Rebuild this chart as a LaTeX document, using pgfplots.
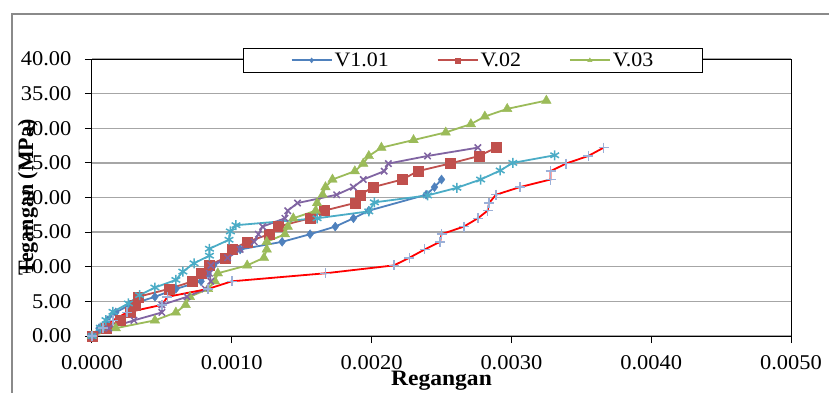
\documentclass[border=0pt]{standalone}
\usepackage{fontspec}
\setmainfont[FakeStretch=1.07]{Liberation Serif}
\newfontfamily\ylabfont{Liberation Serif}
\usepackage{pgfplots}
\pgfplotsset{compat=1.18}
\definecolor{cblue}{HTML}{4F81BD}
\definecolor{cred}{HTML}{C0504D}
\definecolor{cgreen}{HTML}{9BBB59}
\definecolor{cpurple}{HTML}{8064A2}
\definecolor{ccyan}{HTML}{4BACC6}
\definecolor{cplus}{HTML}{9BB0D8}
\definecolor{cframe}{HTML}{8A8A8A}
\definecolor{cgrid}{HTML}{A6A6A6}
\begin{document}
\begin{tikzpicture}[font=\fontsize{21}{24}\selectfont]
\useasboundingbox (-92pt,-56pt) rectangle (737pt,336pt);
\draw[cframe, line width=1.6pt] (-80pt,-70pt) -- (-80pt,322pt) -- (760pt,322pt);
\begin{axis}[
  at={(0,0)}, anchor=south west,
  scale only axis, width=699pt, height=277pt,
  xmin=0, xmax=0.005, ymin=0, ymax=40,
  xtick={0,0.001,0.002,0.003,0.004,0.005},
  ytick={0,5,10,15,20,25,30,35,40},
  scaled x ticks=false,
  xticklabel style={yshift=-9pt, /pgf/number format/.cd, fixed, fixed zerofill, precision=4, assume math mode=true},
  yticklabel style={xshift=-10pt, /pgf/number format/.cd, fixed, fixed zerofill, precision=2, assume math mode=true},
  ymajorgrids, grid style={cgrid, line width=1.3pt},
  axis line style={black, line width=1pt},
  tick style={black, line width=1pt},
  tick align=outside, major tick length=7pt,
  xtick pos=bottom, ytick pos=left,
  clip=false,
  xlabel={Regangan},
  xlabel style={at={(axis description cs:0.5,-0.1769)}, anchor=base, font=\fontsize{22}{24}\selectfont\bfseries},
  ylabel={Tegangan (MPa)},
  ylabel style={at={(axis description cs:-0.0916,0.5)}, anchor=center, font=\ylabfont\fontsize{22}{24}\selectfont\bfseries},
  legend style={at={(0.545,0.995)}, anchor=center, draw=black, fill=white, line width=1pt,
    legend columns=3, inner xsep=47pt, inner ysep=2.5pt, font=\fontsize{20.5}{24}\selectfont,
    /tikz/every even column/.append style={column sep=46pt}},
  legend cell align=left,
  legend image code/.code={\draw[mark repeat=2,mark phase=2,#1, mark size=2.5pt] plot coordinates {(0pt,0pt) (20pt,0pt) (40pt,0pt)};},
]
% V1.01
\addplot[color=cblue, line width=1.8pt, mark=diamond*, mark size=4.5pt, mark options={solid, fill=cblue, line width=0.4pt}] coordinates {
(0,0) (0.00005,1.13) (0.00011,2.26) (0.00017,3.4) (0.00027,4.5) (0.00045,5.66) (0.0006,6.8) (0.00078,7.9) (0.00083,9.06) (0.00087,10.2) (0.00097,11.3) (0.00106,12.5) (0.00136,13.6) (0.00156,14.7) (0.00174,15.8) (0.00187,17.0) (0.00198,18.1) (0.00239,20.4) (0.00245,21.5) (0.0025,22.6)
};
\addlegendentry{V1.01}
% V.02
\addplot[color=cred, line width=1.8pt, mark=square*, mark size=5pt, mark options={solid, fill=cred, line width=0.4pt}] coordinates {
(0,0) (0.0001,1.13) (0.0002,2.26) (0.00027,3.4) (0.00031,4.5) (0.00033,5.66) (0.00055,6.8) (0.00072,7.9) (0.00078,9.06) (0.00084,10.2) (0.00095,11.3) (0.001,12.5) (0.00111,13.6) (0.00127,14.7) (0.00133,15.8) (0.00156,17.0) (0.00166,18.1) (0.00188,19.2) (0.00192,20.4) (0.00201,21.5) (0.00222,22.6) (0.00233,23.8) (0.00256,24.9) (0.00277,26.0) (0.00289,27.2)
};
\addlegendentry{V.02}
% V.03
\addplot[color=cgreen, line width=1.8pt, mark=triangle*, mark size=5.5pt, mark options={solid, fill=cgreen, line width=0.4pt}] coordinates {
(0,0) (0.00017,1.13) (0.00045,2.26) (0.0006,3.4) (0.00067,4.5) (0.0007,5.66) (0.00083,6.8) (0.00088,7.9) (0.0009,9.06) (0.00111,10.2) (0.00123,11.3) (0.00125,12.5) (0.00125,13.6) (0.00138,14.7) (0.0014,15.8) (0.00144,17.0) (0.0016,18.1) (0.00161,19.2) (0.00165,20.4) (0.00167,21.5) (0.00172,22.6) (0.00188,23.8) (0.00194,24.9) (0.00198,26.0) (0.00207,27.2) (0.0023,28.3) (0.00253,29.4) (0.00271,30.6) (0.00281,31.7) (0.00297,32.8) (0.00325,34.0)
};
\addlegendentry{V.03}
% series 4 (purple)
\addplot[forget plot, color=cpurple, line width=1.8pt, mark=x, mark size=4.5pt, mark options={solid, line width=1.5pt}] coordinates {
(0,0) (0.00012,1.13) (0.0003,2.26) (0.0005,3.4) (0.0005,4.5) (0.00068,5.66) (0.00081,6.8) (0.00085,7.9) (0.00084,9.06) (0.00085,10.2) (0.00097,11.3) (0.00106,12.5) (0.00116,13.6) (0.00119,14.7) (0.00122,15.8) (0.00138,17.0) (0.0014,18.1) (0.00147,19.2) (0.00175,20.4) (0.00187,21.5) (0.00194,22.6) (0.00209,23.8) (0.00212,24.9) (0.0024,26.0) (0.00276,27.2)
};
% series 5 (cyan)
\addplot[forget plot, color=ccyan, line width=1.8pt, mark=asterisk, mark size=5pt, mark options={solid, line width=1.5pt}] coordinates {
(0,0) (0.00006,1.2) (0.0001,2.3) (0.00015,3.5) (0.00026,4.7) (0.00034,5.9) (0.00045,7.0) (0.0006,8.1) (0.00065,9.3) (0.00073,10.5) (0.00084,11.6) (0.00084,12.6) (0.00098,13.9) (0.00099,15.1) (0.00103,16.0) (0.00161,17.0) (0.00198,18.0) (0.00202,19.3) (0.0024,20.3) (0.00261,21.4) (0.00278,22.6) (0.00292,23.9) (0.00301,25.0) (0.00331,26.1)
};
% series 6 (red line, + marks)
\addplot[forget plot, color=red, line width=1.8pt, mark=+, mark size=5pt, mark options={solid, cplus, line width=1.5pt}] coordinates {
(0,0) (0.00008,1.13) (0.00015,2.26) (0.00025,3.4) (0.0005,4.5) (0.00054,5.66) (0.00083,6.8) (0.001,7.9) (0.00167,9.06) (0.00216,10.2) (0.00227,11.3) (0.00238,12.5) (0.00249,13.6) (0.0025,14.7) (0.00266,15.8) (0.00276,17.0) (0.00283,18.1) (0.00284,19.2) (0.00289,20.4) (0.00306,21.5) (0.00328,22.6) (0.00328,23.8) (0.00339,24.9) (0.00355,26.0) (0.00366,27.2)
};
\end{axis}
\end{tikzpicture}
\end{document}
